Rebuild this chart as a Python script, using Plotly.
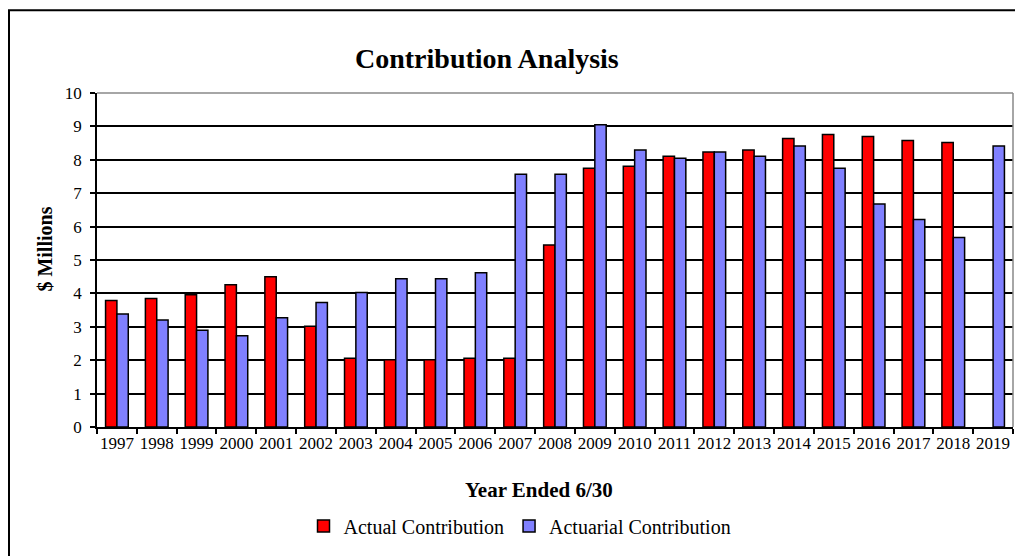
import plotly.graph_objects as go

years = [str(y) for y in range(1997, 2020)]
actual = [3.79, 3.85, 3.96, 4.26, 4.50, 3.02, 2.06, 2.01, 2.01, 2.06, 2.06, 5.45, 7.75,
          7.81, 8.11, 8.23, 8.29, 8.64, 8.76, 8.70, 8.58, 8.52, None]
actuarial = [3.38, 3.20, 2.90, 2.73, 3.27, 3.73, 4.03, 4.44, 4.44, 4.62, 7.57, 7.57, 9.05,
             8.29, 8.05, 8.23, 8.11, 8.41, 7.75, 6.68, 6.21, 5.67, 8.41]
y_ticks = list(range(0, 11))

FONT = "Liberation Serif"
OFF = 8  # page body margin
W, H = 1023 - OFF, 556 - OFF
# plot area in page pixels
PL, PR, PT, PB = 97, 1013, 93, 430
L, T = PL - OFF, PT - OFF
R, B = W - (PR - OFF), H - (PB - OFF)
pw, ph = PR - PL, PB - PT


def px_x(p):  # page pixel -> paper x
    return (p - PL) / pw


def px_y(p):  # page pixel -> paper y
    return 1 - (p - PT) / ph


fig = go.Figure()
fig.add_bar(x=years, y=actual, name="Actual Contribution",
            marker=dict(color="#FF0000", line=dict(color="black", width=1.5)))
fig.add_bar(x=years, y=actuarial, name="Actuarial Contribution",
            marker=dict(color="#8080FF", line=dict(color="black", width=1.5)))

fig.update_layout(
    width=W, height=H,
    margin=dict(l=L, r=R, t=T, b=B),
    paper_bgcolor="white", plot_bgcolor="white",
    barmode="group", bargap=0.43, bargroupgap=0,
    font=dict(family=FONT, color="black", size=17),
    showlegend=True,
    legend=dict(orientation="h", x=px_x(520), y=px_y(530), xanchor="center", yanchor="middle",
                font=dict(family=FONT, size=20, color="black"), itemwidth=30,
                traceorder="normal", bgcolor="rgba(0,0,0,0)"),
    xaxis=dict(type="category", showgrid=False, showline=True, linecolor="black", linewidth=1.5,
               ticks="outside", tickson="boundaries", ticklen=5, tickwidth=1.5, tickcolor="black",
               tickfont=dict(family=FONT, size=17), tickangle=0),
    yaxis=dict(range=[0, 10], tickvals=y_ticks, showgrid=True, gridcolor="black", gridwidth=1.5,
               showline=True, linecolor="black", linewidth=1.5, zeroline=False,
               ticks="outside", ticklen=5, tickwidth=1.5, tickcolor="black",
               ticklabelstandoff=5,
               tickfont=dict(family=FONT, size=17)),
    shapes=[
        dict(type="line", xref="paper", yref="paper", x0=0, x1=1, y0=1, y1=1,
             line=dict(color="#888888", width=1.5), layer="above"),
        dict(type="line", xref="paper", yref="paper", x0=1, x1=1, y0=0, y1=1,
             line=dict(color="#888888", width=1.5), layer="above"),
        dict(type="rect", xref="paper", yref="paper", x0=px_x(9), x1=px_x(1060),
             y0=px_y(600), y1=px_y(9.5), line=dict(color="black", width=2), layer="above"),
    ],
    annotations=[
        dict(text="<b>Contribution Analysis</b>", xref="paper", yref="paper",
             x=px_x(487), y=px_y(58), xanchor="center", yanchor="middle", showarrow=False,
             font=dict(family=FONT, size=28, color="black")),
        dict(text="<b>Year Ended 6/30</b>", xref="paper", yref="paper",
             x=px_x(539), y=px_y(494), xanchor="center", yanchor="middle", showarrow=False,
             font=dict(family=FONT, size=21, color="black")),
        dict(text="<b>$ Millions</b>", xref="paper", yref="paper", textangle=-90,
             x=px_x(45), y=px_y(251), xanchor="center", yanchor="middle", showarrow=False,
             font=dict(family=FONT, size=20, color="black")),
    ],
)

fig.write_html("out.html")
